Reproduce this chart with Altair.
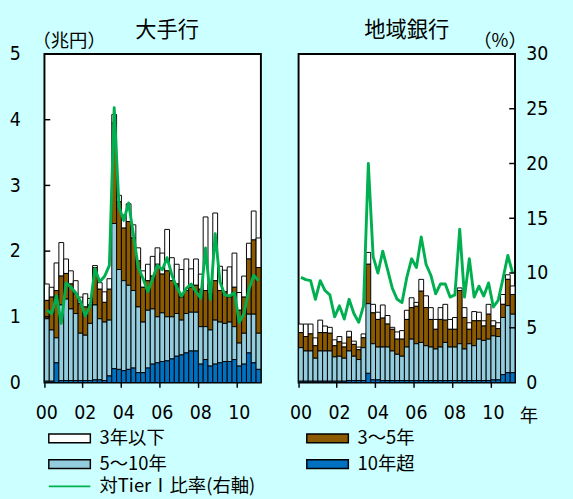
import altair as alt
import pandas as pd

# ---- categories -------------------------------------------------------------
quarters = [f"{y}Q{q}" for y in range(2000, 2012) for q in range(1, 5)][:45]
tick_quarters = ["2000Q1", "2002Q1", "2004Q1", "2006Q1", "2008Q1", "2010Q1"]

# legend is laid out column by column: left column first, then right column
terms = ["3年以下", "5～10年", "3～5年", "10年超"]
term_colors = ["#FFFFFF", "#93CDDD", "#8C5A00", "#0070C0"]
stack_rank = {"10年超": 0, "5～10年": 1, "3～5年": 2, "3年以下": 3}
ratio_label = "対TierⅠ比率(右軸)"

amount_ticks = [1, 2, 3, 4]
ratio_ticks = [5, 10, 15, 20, 25]

# ---- 大手行 (兆円) -------------------------------------------------------------
major_under3 = [0.25, 0.15, 0.42, 0.51, 0.22, 0.20, 0.20, 0.10, 0.20, 0.10,
                0.03, 0.10, 0.16, 0.16, 0.13, 0.10, 0.20, 0.27, 0.20, 0.20,
                0.25, 0.25, 0.30, 0.25, 0.32, 0.63, 0.35, 0.30, 0.42, 0.48,
                0.28, 0.40, 0.23, 1.12, 0.15, 1.03, 0.37, 0.33, 0.46, 0.52,
                0.27, 0.32, 0.24, 0.44, 0.45]
major_3to5 = [0.28, 0.50, 0.72, 0.44, 0.39, 0.38, 0.30, 0.45, 0.43, 0.28,
              0.57, 0.45, 0.30, 0.47, 1.53, 1.03, 0.80, 0.97, 0.80, 0.70,
              0.53, 0.45, 0.50, 0.80, 0.59, 0.70, 0.55, 0.45, 0.35, 0.35,
              0.38, 0.41, 0.57, 0.55, 0.55, 0.60, 0.48, 0.48, 0.38, 0.60,
              0.50, 0.55, 0.84, 1.13, 1.00]
major_5to10 = [0.95, 0.78, 0.38, 1.15, 1.24, 1.09, 1.02, 0.72, 0.69, 0.87,
               1.14, 0.93, 0.89, 0.85, 2.21, 1.52, 1.37, 1.28, 1.18, 1.00,
               0.77, 0.88, 0.84, 0.70, 0.74, 0.67, 0.64, 0.65, 0.53, 0.60,
               0.59, 0.59, 0.57, 0.50, 0.55, 0.67, 0.62, 0.58, 0.60, 0.50,
               0.35, 0.47, 0.59, 0.74, 0.55]
major_over10 = [0.02, 0.02, 0.30, 0.03, 0.03, 0.03, 0.03, 0.03, 0.03, 0.03,
                0.04, 0.04, 0.03, 0.10, 0.21, 0.20, 0.18, 0.20, 0.22, 0.15,
                0.15, 0.22, 0.28, 0.30, 0.32, 0.33, 0.36, 0.40, 0.42, 0.45,
                0.48, 0.48, 0.28, 0.35, 0.25, 0.28, 0.30, 0.32, 0.32, 0.35,
                0.25, 0.28, 0.45, 0.30, 0.20]
major_ratio = [6.6, 6.3, 7.9, 5.4, 9.1, 8.7, 8.2, 7.4, 6.1, 7.0,
               10.4, 9.2, 9.7, 10.7, 25.1, 16.0, 14.8, 16.4, 13.5, 10.5,
               9.5, 8.3, 9.5, 10.7, 10.3, 11.4, 9.8, 8.7, 7.9, 8.6,
               9.0, 8.3, 7.7, 12.3, 7.6, 13.6, 9.2, 8.0, 7.9, 8.2,
               5.5, 6.3, 8.5, 9.8, 9.3]

# ---- 地域銀行 (兆円) -----------------------------------------------------------
regional_under3 = [0.13, 0.19, 0.15, 0.12, 0.19, 0.10, 0.09, 0.09, 0.08, 0.06,
                   0.09, 0.05, 0.04, 0.06, 0.18, 0.13, 0.11, 0.20, 0.13, 0.03,
                   0.11, 0.13, 0.14, 0.15, 0.06, 0.18, 0.18, 0.18, 0.15, 0.18,
                   0.24, 0.15, 0.18, 0.04, 0.15, 0.10, 0.14, 0.13, 0.08, 0.15,
                   0.08, 0.09, 0.15, 0.07, 0.13]
regional_3to5 = [0.23, 0.22, 0.26, 0.19, 0.28, 0.28, 0.27, 0.17, 0.22, 0.17,
                 0.21, 0.18, 0.15, 0.15, 0.60, 0.47, 0.42, 0.44, 0.35, 0.33,
                 0.23, 0.26, 0.42, 0.48, 0.57, 0.78, 0.58, 0.42, 0.30, 0.42,
                 0.34, 0.27, 0.27, 0.81, 0.48, 0.22, 0.38, 0.28, 0.22, 0.38,
                 0.15, 0.12, 0.20, 0.40, 0.30]
regional_5to10 = [0.51, 0.46, 0.46, 0.35, 0.46, 0.46, 0.46, 0.37, 0.38, 0.35,
                  0.45, 0.37, 0.32, 0.50, 1.06, 0.55, 0.50, 0.51, 0.51, 0.45,
                  0.40, 0.37, 0.51, 0.63, 0.56, 0.58, 0.53, 0.51, 0.48, 0.51,
                  0.58, 0.51, 0.51, 0.56, 0.48, 0.56, 0.53, 0.63, 0.61, 0.63,
                  0.67, 0.66, 0.87, 1.02, 0.89]
regional_over10 = [0.02, 0.02, 0.02, 0.02, 0.02, 0.02, 0.02, 0.02, 0.02, 0.02,
                   0.03, 0.03, 0.03, 0.03, 0.14, 0.04, 0.04, 0.03, 0.03, 0.03,
                   0.03, 0.03, 0.03, 0.03, 0.03, 0.03, 0.03, 0.03, 0.03, 0.03,
                   0.03, 0.03, 0.03, 0.03, 0.03, 0.03, 0.03, 0.03, 0.03, 0.03,
                   0.04, 0.04, 0.12, 0.15, 0.15]
regional_ratio = [9.6, 9.4, 9.3, 7.6, 9.3, 8.4, 8.0, 6.0, 7.0, 5.8,
                  7.6, 6.3, 5.5, 7.0, 20.0, 11.5, 10.0, 12.0, 10.3, 8.6,
                  7.6, 7.3, 9.6, 11.3, 10.5, 13.3, 10.8, 9.8, 8.1, 9.0,
                  9.0, 7.8, 8.0, 14.0, 7.8, 11.3, 7.8, 8.8, 7.9, 9.1,
                  6.9, 7.5, 9.5, 11.6, 10.0]

FONT_JP = "Noto Sans CJK JP"
FONT_NUM = "Liberation Sans Narrow, DejaVu Sans Condensed, Noto Sans CJK JP"
PANEL_W = 224
PANEL_H = 340
GREEN = "#00B050"


def term_frame(under3, t3_5, t5_10, over10):
    rows = []
    series = {"3年以下": under3, "3～5年": t3_5, "5～10年": t5_10, "10年超": over10}
    for i, q in enumerate(quarters):
        for term, vals in series.items():
            rows.append({"quarter": q, "term": term, "value": vals[i],
                         "rank": stack_rank[term]})
    return pd.DataFrame(rows)


fill_legend = alt.Legend(
    title=None, orient="none", legendX=0, legendY=388, columns=2,
    columnPadding=140, rowPadding=7,
    symbolType="M-1,-0.9H7.6V0.9H-1Z", symbolSize=100,
    symbolStrokeColor="black", symbolStrokeWidth=1.5,
    labelFontSize=19, labelFont=FONT_JP, labelColor="black", labelOffset=38,
)
stroke_legend = alt.Legend(
    title=None, orient="none", legendX=0, legendY=438,
    symbolType="M-1,0H7.6", symbolSize=100, symbolStrokeWidth=2,
    labelFontSize=19, labelFont=FONT_JP, labelColor="black", labelOffset=38,
    labelLimit=400,
)


def x_axis(with_unit):
    kw = dict(values=tick_quarters, labelExpr="substring(datum.value, 2, 4)",
              bandPosition=0, labelAngle=0, tickSize=5, tickWidth=1.5,
              tickColor="black", domain=False, grid=False, labelPadding=16,
              labelFontSize=20, labelFont=FONT_NUM, labelColor="black")
    if with_unit:
        kw.update(title="年", titleX=238, titleY=34, titleAngle=0,
                  titleAlign="center", titleBaseline="middle", titleFontSize=19,
                  titleFont=FONT_JP, titleFontWeight="normal", titleColor="black")
    else:
        kw.update(title=None)
    return alt.Axis(**kw)


def panel(bars_df, ratio, title, side):
    x = alt.X("quarter:O", sort=quarters,
              scale=alt.Scale(paddingInner=0, paddingOuter=0),
              axis=x_axis(side == "right"))

    if side == "left":
        amount_axis = alt.Axis(values=[0, 1, 2, 3, 4, 5], ticks=False, domain=False,
                               grid=False, labelPadding=25, labelFontSize=20,
                               labelFont=FONT_NUM, labelColor="black", labelOverlap=False,
                               title="（兆円）", titleAngle=0, titleX=25, titleY=-14,
                               titleAlign="center", titleBaseline="middle",
                               titleFontSize=19, titleFont=FONT_JP,
                               titleFontWeight="normal", titleColor="black")
        bar_y = alt.Y("value:Q", stack="zero",
                      scale=alt.Scale(domain=[0, 5], nice=False), axis=amount_axis)
        line_y = alt.Y("ratio:Q", scale=alt.Scale(domain=[0, 30], nice=False), axis=None)
        ticks = alt.Chart(pd.DataFrame({"v": amount_ticks})).mark_rule(
            color="black", strokeWidth=1.5).encode(
            y=alt.Y("v:Q", scale=alt.Scale(domain=[0, 5], nice=False), axis=None),
            x=alt.value(0), x2=alt.value(6))
    else:
        ratio_axis = alt.Axis(orient="right", values=[0, 5, 10, 15, 20, 25, 30],
                              ticks=False, domain=False, grid=False, labelPadding=11,
                              labelFontSize=20, labelFont=FONT_NUM, labelColor="black",
                              labelOverlap=False,
                              title="（%）", titleAngle=0, titleX=-16, titleY=-14,
                              titleAlign="center", titleBaseline="middle",
                              titleFontSize=19, titleFont=FONT_JP,
                              titleFontWeight="normal", titleColor="black")
        bar_y = alt.Y("value:Q", stack="zero",
                      scale=alt.Scale(domain=[0, 5], nice=False), axis=None)
        line_y = alt.Y("ratio:Q", scale=alt.Scale(domain=[0, 30], nice=False),
                       axis=ratio_axis)
        ticks = alt.Chart(pd.DataFrame({"v": ratio_ticks})).mark_rule(
            color="black", strokeWidth=1.5).encode(
            y=alt.Y("v:Q", scale=alt.Scale(domain=[0, 30], nice=False), axis=None),
            x=alt.value(PANEL_W - 6), x2=alt.value(PANEL_W))

    bars = alt.Chart(bars_df).mark_bar(stroke="black", strokeWidth=1).encode(
        x=x,
        y=bar_y,
        fill=alt.Fill("term:N", scale=alt.Scale(domain=terms, range=term_colors),
                      legend=fill_legend),
        order=alt.Order("rank:Q", sort="ascending"),
    )

    line_df = pd.DataFrame({"quarter": quarters, "ratio": ratio,
                            "series": [ratio_label] * len(quarters)})
    line = alt.Chart(line_df).mark_line(strokeWidth=3, strokeJoin="round").encode(
        x=alt.X("quarter:O", sort=quarters),
        y=line_y,
        stroke=alt.Stroke("series:N",
                          scale=alt.Scale(domain=[ratio_label], range=[GREEN]),
                          legend=stroke_legend),
    )

    return alt.layer(bars, line, ticks).resolve_scale(y="independent").properties(
        width=PANEL_W, height=PANEL_H,
        title=alt.TitleParams(title, fontSize=22, font=FONT_JP, fontWeight="normal",
                              color="black", frame="group", offset=-10,
                              dx=15 if side == "left" else 0),
    )


major = panel(term_frame(major_under3, major_3to5, major_5to10, major_over10),
              major_ratio, "大手行", "left")
regional = panel(term_frame(regional_under3, regional_3to5, regional_5to10,
                            regional_over10),
                 regional_ratio, "地域銀行", "right")

chart = alt.hconcat(major, regional, spacing=26).configure(
    background="#CCFFFF",
    padding={"left": 8, "top": 10, "right": 25, "bottom": 4},
    font=FONT_JP,
).configure_view(fill="white", stroke="black", strokeWidth=2)

chart.save("out.html", embed_options={"renderer": "svg", "actions": False})
